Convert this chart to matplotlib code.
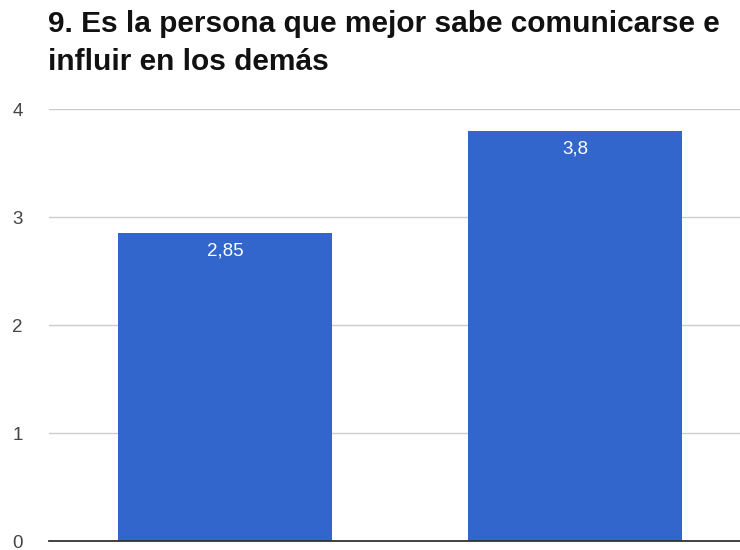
import matplotlib.pyplot as plt

categories = ['A', 'B']
values = [2.85, 3.8]
value_labels = ['2,85', '3,8']
yticks = [0, 1, 2, 3, 4]

plt.rcParams['font.family'] = ['Liberation Sans', 'DejaVu Sans']

fig = plt.figure(figsize=(7.4, 5.5), dpi=100)
ax = fig.add_axes([49 / 740, 9 / 550, 702 / 740, 432 / 550])

x = range(len(categories))
bars = ax.bar(x, values, width=0.614, color='#3366cc', zorder=2)

# value labels inside the top of each bar
for b, lab in zip(bars, value_labels):
    ax.annotate(lab, (b.get_x() + b.get_width() / 2, b.get_height()),
                xytext=(0, -18), textcoords='offset pixels',
                ha='center', va='center', color='white', fontsize=13.5)

ax.set_xlim(-0.503, 1.503)
ax.set_ylim(0, 4)
ax.set_yticks(yticks)
ax.set_yticklabels([str(t) for t in yticks])
ax.set_xticks([])
ax.grid(axis='y', color='#cccccc', linewidth=1, zorder=0)
ax.tick_params(axis='y', length=0, pad=19, labelsize=13.5, labelcolor='#444444')
for s in ['top', 'right', 'left']:
    ax.spines[s].set_visible(False)
ax.spines['bottom'].set_color('#333333')
ax.spines['bottom'].set_linewidth(1.3)
ax.spines['bottom'].set_zorder(3)

fig.text(48 / 740, 1 - 24 / 550, '9. Es la persona que mejor sabe comunicarse e',
         fontsize=21.5, fontweight='bold', va='center', ha='left', color='#111111')
fig.text(48 / 740, 1 - 62 / 550, 'influir en los demás',
         fontsize=21.5, fontweight='bold', va='center', ha='left', color='#111111')

fig.savefig('out.png', dpi=100)
